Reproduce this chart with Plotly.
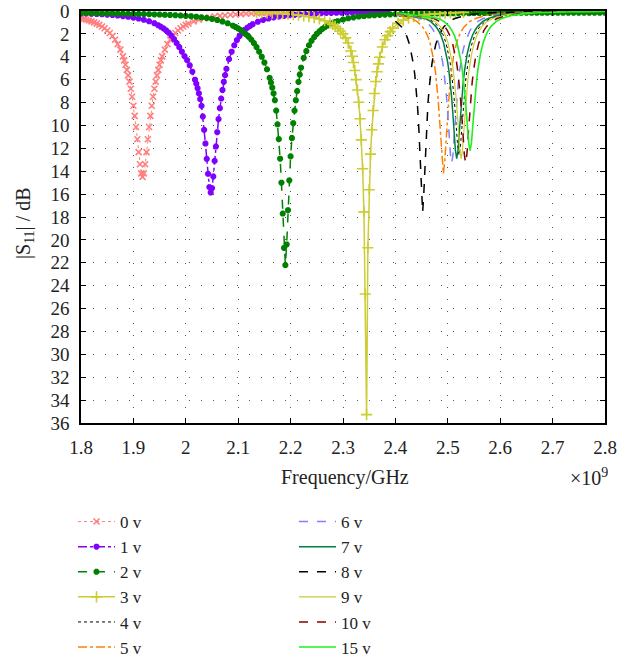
import plotly.graph_objects as go

# ---------------- data (frequency in GHz, |S11| in dB) ----------------
FREQ_0V = [1.800, 1.805, 1.810, 1.815, 1.820, 1.825, 1.830, 1.835, 1.840, 1.845,
           1.850, 1.855, 1.860, 1.865, 1.870, 1.875, 1.880, 1.8825, 1.885, 1.8875,
           1.890, 1.8925, 1.895, 1.8975, 1.900, 1.9025, 1.905, 1.9075, 1.910, 1.9125,
           1.915, 1.9175, 1.920, 1.9225, 1.925, 1.9275, 1.930, 1.9325, 1.935, 1.9375,
           1.940, 1.9425, 1.945, 1.9475, 1.950, 1.9525, 1.955, 1.960, 1.965, 1.970,
           1.975, 1.980, 1.985, 1.990, 1.995, 2.000, 2.005, 2.015, 2.025, 2.035,
           2.045, 2.055, 2.065, 2.075, 2.085, 2.095, 2.105, 2.115, 2.125, 2.135,
           2.145, 2.155, 2.165, 2.175, 2.185, 2.195, 2.205, 2.215]
DB_0V = [0.64, 0.70, 0.76, 0.83, 0.91, 1.00, 1.10, 1.21, 1.35, 1.51,
         1.70, 1.92, 2.19, 2.51, 2.90, 3.38, 3.97, 4.31, 4.70, 5.14,
         5.62, 6.17, 6.79, 7.49, 8.28, 9.16, 10.14, 11.21, 12.33, 13.39,
         14.19, 14.50, 14.19, 13.39, 12.33, 11.21, 10.14, 9.16, 8.28, 7.49,
         6.79, 6.17, 5.62, 5.14, 4.70, 4.31, 3.97, 3.38, 2.90, 2.51,
         2.19, 1.92, 1.70, 1.51, 1.35, 1.21, 1.10, 0.91, 0.76, 0.64,
         0.55, 0.48, 0.42, 0.37, 0.33, 0.30, 0.27, 0.24, 0.22, 0.20,
         0.18, 0.17, 0.16, 0.15, 0.14, 0.13, 0.12, 0.11]

FREQ_1V = [1.800, 1.810, 1.820, 1.830, 1.840, 1.850, 1.860, 1.870, 1.880, 1.890,
           1.900, 1.910, 1.920, 1.930, 1.940,
           1.9475, 1.9525, 1.9575, 1.9625, 1.9675, 1.9725, 1.9775, 1.9825, 1.9875, 1.9925,
           1.9975, 2.0025, 2.0075, 2.0125, 2.0175, 2.020, 2.0225, 2.025, 2.0275, 2.030,
           2.0325, 2.035, 2.0375, 2.040, 2.0425, 2.045, 2.0475, 2.050, 2.0525, 2.055,
           2.0575, 2.060, 2.0625, 2.065, 2.0675, 2.070, 2.0725, 2.075, 2.0775, 2.0825,
           2.0875, 2.0925, 2.0975, 2.1025, 2.1075, 2.1125, 2.1175, 2.1225, 2.1275, 2.1375,
           2.1475, 2.1575, 2.1675, 2.1775, 2.1875, 2.1975, 2.2075, 2.2175, 2.2275, 2.2375,
           2.2475, 2.2575, 2.2675, 2.2775, 2.2875, 2.2975, 2.3075, 2.3175, 2.3275, 2.3375,
           2.3475, 2.3575, 2.3675, 2.3775, 2.385]
DB_1V = [0.21, 0.22, 0.24, 0.26, 0.29, 0.32, 0.35, 0.40, 0.45, 0.51,
         0.58, 0.66, 0.77, 0.90, 1.07,
         1.25, 1.38, 1.52, 1.70, 1.90, 2.15, 2.45, 2.80, 3.15, 3.55,
         3.95, 4.30, 4.75, 5.30, 6.00, 6.35, 6.75, 7.20, 7.70, 8.29,
         9.22, 10.38, 11.58, 12.92, 14.23, 15.39, 15.86, 15.48, 14.46, 13.09,
         11.84, 10.59, 9.45, 8.49, 7.65, 6.90, 6.20, 5.60, 5.05, 4.20,
         3.55, 3.00, 2.55, 2.20, 1.90, 1.66, 1.46, 1.30, 1.16, 0.94,
         0.78, 0.66, 0.56, 0.49, 0.43, 0.38, 0.34, 0.30, 0.27, 0.24,
         0.22, 0.20, 0.18, 0.17, 0.16, 0.15, 0.14, 0.13, 0.12, 0.11,
         0.11, 0.10, 0.10, 0.09, 0.09]

FREQ_2V = [1.800, 1.810, 1.820, 1.830, 1.840, 1.850, 1.860, 1.870, 1.880, 1.890,
           1.900, 1.910, 1.920, 1.930, 1.940, 1.950, 1.960, 1.970, 1.980, 1.990,
           2.000, 2.010, 2.020, 2.030, 2.040, 2.050, 2.060, 2.070, 2.080, 2.090,
           2.095, 2.100, 2.105, 2.110, 2.115, 2.120, 2.125, 2.130, 2.135, 2.140,
           2.145, 2.150, 2.155, 2.160, 2.1625, 2.165, 2.1675, 2.170, 2.1725, 2.175,
           2.1775, 2.180, 2.1825, 2.185, 2.1875, 2.190, 2.1925, 2.195, 2.1975, 2.200,
           2.2025, 2.205, 2.2075, 2.210, 2.2125, 2.215, 2.2175, 2.220, 2.225, 2.230,
           2.235, 2.240, 2.245, 2.250, 2.255, 2.260, 2.265, 2.270, 2.275, 2.280,
           2.285, 2.290, 2.300, 2.310, 2.320, 2.330, 2.340, 2.350, 2.360, 2.370,
           2.380, 2.390, 2.400, 2.410, 2.420, 2.430, 2.440, 2.450, 2.460, 2.470,
           2.480, 2.490, 2.500, 2.510, 2.520, 2.530, 2.540, 2.550, 2.560, 2.570,
           2.580, 2.590, 2.600, 2.610, 2.620, 2.630, 2.640, 2.650, 2.660, 2.670,
           2.680, 2.690, 2.700, 2.710, 2.720, 2.730, 2.740, 2.750, 2.760, 2.770,
           2.780, 2.790, 2.800]
DB_2V = [0.18, 0.18, 0.19, 0.19, 0.20, 0.21, 0.21, 0.22, 0.23, 0.24,
         0.25, 0.26, 0.27, 0.28, 0.30, 0.31, 0.33, 0.35, 0.37, 0.40,
         0.43, 0.46, 0.50, 0.55, 0.61, 0.69, 0.79, 0.92, 1.08, 1.28,
         1.40, 1.53, 1.68, 1.85, 2.05, 2.25, 2.50, 2.80, 3.15, 3.55,
         4.00, 4.50, 5.10, 5.85, 6.25, 6.70, 7.20, 7.80, 8.70, 9.90,
         11.20, 12.90, 15.00, 17.70, 20.70, 22.20, 20.40, 17.40, 14.80, 12.70,
         11.10, 9.80, 8.70, 7.80, 7.00, 6.20, 5.55, 4.95, 4.10, 3.50,
         3.00, 2.60, 2.28, 2.00, 1.78, 1.58, 1.42, 1.28, 1.16, 1.06,
         0.97, 0.89, 0.75, 0.64, 0.56, 0.49, 0.44, 0.40, 0.37, 0.34,
         0.32, 0.30, 0.28, 0.27, 0.26, 0.25, 0.24, 0.23, 0.22, 0.22,
         0.21, 0.21, 0.20, 0.20, 0.19, 0.19, 0.19, 0.18, 0.18, 0.18,
         0.18, 0.17, 0.17, 0.17, 0.17, 0.17, 0.16, 0.16, 0.16, 0.16,
         0.16, 0.16, 0.16, 0.15, 0.15, 0.15, 0.15, 0.15, 0.15, 0.15,
         0.15, 0.15, 0.15]

FREQ_3V = [2.135, 2.145, 2.155, 2.165, 2.175, 2.185, 2.195, 2.205, 2.215, 2.225,
           2.235, 2.245, 2.255, 2.265, 2.275, 2.280, 2.285, 2.290, 2.295, 2.300,
           2.305, 2.310, 2.315, 2.3175, 2.320, 2.3225, 2.325, 2.3275, 2.330, 2.3325,
           2.335, 2.3375, 2.340, 2.3425, 2.345, 2.3475, 2.350, 2.3525, 2.355, 2.3575,
           2.360, 2.3625, 2.365, 2.3675, 2.370, 2.375, 2.380, 2.385, 2.390, 2.395,
           2.405, 2.415, 2.425, 2.435, 2.445, 2.455, 2.465, 2.475, 2.485, 2.495,
           2.505, 2.515, 2.530]
DB_3V = [0.13, 0.14, 0.16, 0.18, 0.20, 0.23, 0.27, 0.31, 0.36, 0.42,
         0.50, 0.58, 0.70, 0.85, 1.05, 1.18, 1.35, 1.53, 1.75, 2.00,
         2.35, 2.80, 3.50, 3.95, 4.50, 5.20, 6.00, 6.90, 7.97, 9.42,
         11.26, 13.79, 17.55, 24.73, 35.27, 20.69, 15.62, 12.51, 10.38, 8.70,
         7.21, 6.16, 5.31, 4.62, 4.04, 3.15, 2.51, 2.15, 1.80, 1.50,
         1.08, 0.80, 0.62, 0.50, 0.41, 0.35, 0.29, 0.25, 0.22, 0.19,
         0.17, 0.15, 0.12]

FREQ_4V = [2.400, 2.4615, 2.4715, 2.4815, 2.4865, 2.4915, 2.4965, 2.5015, 2.504, 2.5065,
           2.509, 2.5115, 2.514, 2.5165, 2.519, 2.5215, 2.524, 2.5265, 2.529, 2.5315,
           2.534, 2.5365, 2.539, 2.5415, 2.5465, 2.5515, 2.5565, 2.5615, 2.5715, 2.5815,
           2.6015, 2.6215, 2.6515, 2.6815, 2.7215, 2.800]
DB_4V = [0.17, 0.66, 0.91, 1.34, 1.68, 2.13, 2.79, 3.73, 4.38, 5.16,
         6.13, 7.32, 8.76, 10.40, 11.92, 12.60, 11.92, 10.40, 8.76, 7.32,
         6.13, 5.16, 4.38, 3.73, 2.79, 2.13, 1.68, 1.34, 0.91, 0.66,
         0.38, 0.25, 0.15, 0.10, 0.065, 0.03]

FREQ_5V = [2.400, 2.4315, 2.4415, 2.4515, 2.4565, 2.4615, 2.4665, 2.4715, 2.474, 2.4765,
           2.479, 2.4815, 2.484, 2.4865, 2.489, 2.4915, 2.494, 2.4965, 2.499, 2.5015,
           2.504, 2.5065, 2.509, 2.5115, 2.5165, 2.5215, 2.5265, 2.5315, 2.5415, 2.5515,
           2.5715, 2.5915, 2.6215, 2.6515, 2.6915, 2.800]
DB_5V = [0.30, 0.67, 0.93, 1.37, 1.71, 2.17, 2.85, 3.84, 4.51, 5.34,
         6.37, 7.68, 9.30, 11.25, 13.23, 14.20, 13.23, 11.25, 9.30, 7.68,
         6.37, 5.34, 4.51, 3.84, 2.85, 2.17, 1.71, 1.37, 0.93, 0.67,
         0.39, 0.25, 0.15, 0.10, 0.065, 0.027]

FREQ_6V = [2.400, 2.4475, 2.4575, 2.4675, 2.4725, 2.4775, 2.4825, 2.4875, 2.490, 2.4925,
           2.495, 2.4975, 2.500, 2.5025, 2.505, 2.5075, 2.510, 2.5125, 2.515, 2.5175,
           2.520, 2.5225, 2.525, 2.5275, 2.5325, 2.5375, 2.5425, 2.5475, 2.5575, 2.5675,
           2.5875, 2.6075, 2.6375, 2.6675, 2.7075, 2.800]
DB_6V = [0.22, 0.66, 0.91, 1.35, 1.69, 2.15, 2.81, 3.78, 4.43, 5.24,
         6.24, 7.49, 9.01, 10.79, 12.50, 13.30, 12.50, 10.79, 9.01, 7.49,
         6.24, 5.24, 4.43, 3.78, 2.81, 2.15, 1.69, 1.35, 0.91, 0.66,
         0.38, 0.25, 0.15, 0.10, 0.065, 0.03]

FREQ_7V = [2.400, 2.457, 2.467, 2.477, 2.482, 2.487, 2.492, 2.497, 2.4995, 2.502,
           2.5045, 2.507, 2.5095, 2.512, 2.5145, 2.517, 2.5195, 2.522, 2.5245, 2.527,
           2.5295, 2.532, 2.5345, 2.537, 2.542, 2.547, 2.552, 2.557, 2.567, 2.577,
           2.597, 2.617, 2.647, 2.677, 2.717, 2.800]
DB_7V = [0.18, 0.66, 0.91, 1.34, 1.68, 2.14, 2.80, 3.75, 4.40, 5.19,
         6.18, 7.40, 8.87, 10.57, 12.17, 12.90, 12.17, 10.57, 8.87, 7.40,
         6.18, 5.19, 4.40, 3.75, 2.80, 2.14, 1.68, 1.34, 0.91, 0.66,
         0.38, 0.25, 0.15, 0.10, 0.065, 0.03]

FREQ_8V = [2.400, 2.412, 2.417, 2.422, 2.427, 2.432, 2.4345, 2.437, 2.4395, 2.442,
           2.4445, 2.447, 2.4495, 2.452, 2.4545, 2.457, 2.4595, 2.462, 2.4645, 2.467,
           2.4695, 2.472, 2.477, 2.482, 2.487, 2.492, 2.502, 2.512, 2.532, 2.552,
           2.582, 2.612, 2.652, 2.720, 2.800]
DB_8V = [0.89, 1.40, 1.75, 2.24, 2.93, 3.97, 4.68, 5.57, 6.70, 8.16,
         10.07, 12.58, 15.67, 17.60, 15.67, 12.58, 10.07, 8.16, 6.70, 5.57,
         4.68, 3.97, 2.93, 2.24, 1.75, 1.40, 0.95, 0.68, 0.40, 0.26,
         0.16, 0.10, 0.066, 0.037, 0.022]

FREQ_9V = [2.400, 2.4655, 2.4755, 2.4855, 2.4905, 2.4955, 2.5005, 2.5055, 2.508, 2.5105,
           2.513, 2.5155, 2.518, 2.5205, 2.523, 2.5255, 2.528, 2.5305, 2.533, 2.5355,
           2.538, 2.5405, 2.543, 2.5455, 2.5505, 2.5555, 2.5605, 2.5655, 2.5755, 2.5855,
           2.6055, 2.6255, 2.6555, 2.6855, 2.7255, 2.800]
DB_9V = [0.16, 0.66, 0.91, 1.34, 1.68, 2.14, 2.80, 3.75, 4.40, 5.19,
         6.18, 7.40, 8.87, 10.57, 12.17, 12.90, 12.17, 10.57, 8.87, 7.40,
         6.18, 5.19, 4.40, 3.75, 2.80, 2.14, 1.68, 1.34, 0.91, 0.66,
         0.38, 0.25, 0.15, 0.10, 0.065, 0.03]

FREQ_10V = [2.400, 2.474, 2.484, 2.494, 2.499, 2.504, 2.509, 2.514, 2.5165, 2.519,
            2.5215, 2.524, 2.5265, 2.529, 2.5315, 2.534, 2.5365, 2.539, 2.5415, 2.544,
            2.5465, 2.549, 2.5515, 2.554, 2.559, 2.564, 2.569, 2.574, 2.584, 2.594,
            2.614, 2.634, 2.664, 2.694, 2.734, 2.800]
DB_10V = [0.14, 0.66, 0.91, 1.35, 1.69, 2.15, 2.81, 3.78, 4.43, 5.24,
          6.24, 7.49, 9.01, 10.79, 12.50, 13.30, 12.50, 10.79, 9.01, 7.49,
          6.24, 5.24, 4.43, 3.78, 2.81, 2.15, 1.69, 1.35, 0.91, 0.66,
          0.38, 0.25, 0.15, 0.10, 0.065, 0.035]

FREQ_15V = [2.400, 2.4825, 2.4925, 2.5025, 2.5075, 2.5125, 2.5175, 2.5225, 2.525, 2.5275,
            2.530, 2.5325, 2.535, 2.5375, 2.540, 2.5425, 2.545, 2.5475, 2.550, 2.5525,
            2.555, 2.5575, 2.560, 2.5625, 2.5675, 2.5725, 2.5775, 2.5825, 2.5925, 2.6025,
            2.6225, 2.6425, 2.6725, 2.7025, 2.7425, 2.800]
DB_15V = [0.13, 0.66, 0.91, 1.34, 1.68, 2.13, 2.78, 3.70, 4.33, 5.10,
          6.05, 7.22, 8.61, 10.16, 11.58, 12.20, 11.58, 10.16, 8.61, 7.22,
          6.05, 5.10, 4.33, 3.70, 2.78, 2.13, 1.68, 1.34, 0.91, 0.66,
          0.38, 0.25, 0.15, 0.10, 0.065, 0.04]

X_TICKS = [1.8, 1.9, 2.0, 2.1, 2.2, 2.3, 2.4, 2.5, 2.6, 2.7, 2.8]
X_TICK_TEXT = ["1.8", "1.9", "2", "2.1", "2.2", "2.3", "2.4", "2.5", "2.6", "2.7", "2.8"]
Y_TICKS = [0, 2, 4, 6, 8, 10, 12, 14, 16, 18, 20, 22, 24, 26, 28, 30, 32, 34, 36]

# ---------------- styles ----------------
FONT = "Liberation Serif"
TXT = "#222222"

series = [
    ("0 v", FREQ_0V, DB_0V, dict(color="#FF7F7F", width=1, dash="dot"),
     dict(symbol="x-thin-open", size=6, line=dict(color="#FF7F7F", width=1.6)), "legend"),
    ("1 v", FREQ_1V, DB_1V, dict(color="#8000FF", width=1.5, dash="dashdot"),
     dict(symbol="asterisk-open", size=5, line=dict(color="#8000FF", width=2.2)), "legend"),
    ("2 v", FREQ_2V, DB_2V, dict(color="#008000", width=1.5, dash="dash"),
     dict(symbol="asterisk-open", size=5, line=dict(color="#008000", width=2.2)), "legend"),
    ("3 v", FREQ_3V, DB_3V, dict(color="#CCCC33", width=1.5),
     dict(symbol="cross-thin-open", size=8, line=dict(color="#CCCC33", width=1.6)), "legend"),
    ("4 v", FREQ_4V, DB_4V, dict(color="black", width=1, dash="dot"), None, "legend"),
    ("5 v", FREQ_5V, DB_5V, dict(color="#FF8000", width=1.5, dash="dashdot"), None, "legend"),
    ("6 v", FREQ_6V, DB_6V, dict(color="#8080FF", width=1.5, dash="dash"), None, "legend2"),
    ("7 v", FREQ_7V, DB_7V, dict(color="#008040", width=1.5), None, "legend2"),
    ("8 v", FREQ_8V, DB_8V, dict(color="black", width=1.5, dash="dash"), None, "legend2"),
    ("9 v", FREQ_9V, DB_9V, dict(color="#CCCC33", width=1.2), None, "legend2"),
    ("10 v", FREQ_10V, DB_10V, dict(color="#800000", width=1.5, dash="dash"), None, "legend2"),
    ("15 v", FREQ_15V, DB_15V, dict(color="#22EE22", width=1.6), None, "legend2"),
]

fig = go.Figure()
for name, fx, fy, line, marker, leg in series:
    assert len(fx) == len(fy), name
    kw = dict(x=fx, y=fy, name=name, line=line, legend=leg)
    if marker is not None:
        kw["mode"] = "lines+markers"
        kw["marker"] = dict(color=marker["line"]["color"], **marker)
    else:
        kw["mode"] = "lines"
    fig.add_trace(go.Scatter(**kw))

axis_common = dict(
    showline=True, linecolor="black", linewidth=1.5, mirror="ticks",
    ticks="inside", ticklen=5, tickcolor="black", tickwidth=1,
    showgrid=True, gridcolor="#555555", gridwidth=1, griddash="1px,11px",
    zeroline=False, automargin=False, ticklabeloverflow="allow",
    tickfont=dict(family=FONT, size=19, color=TXT),
)

fig.update_xaxes(range=[1.8, 2.8], tickvals=X_TICKS, ticktext=X_TICK_TEXT,
                 tickangle=0, ticklabelstandoff=6, **axis_common)
fig.update_yaxes(range=[36, 0], tickvals=Y_TICKS, ticklabelstandoff=6, **axis_common)

# the page body margin is removed (see post_script), so figure pixels == page pixels
W, H = 631, 661
PL, PR, PT, PB = 81, 605, 11, 423          # plot area in page pixels
L, R, T, B = PL, W - PR, PT, H - PB
pw, ph = PR - PL, PB - PT

def px_x(px):
    return (px - PL) / pw

def px_y(py):
    return 1 - (py - PT) / ph

def cx(px):
    return px / W

def cy(py):
    return 1 - py / H

fig.update_layout(
    width=W, height=H,
    margin=dict(l=L, r=R, t=T, b=B, pad=0, autoexpand=False),
    paper_bgcolor="white", plot_bgcolor="white",
    font=dict(family=FONT, size=17, color=TXT),
    showlegend=True,
    hovermode=False,
    legend=dict(xref="container", yref="container", x=cx(73), y=cy(504),
                xanchor="left", yanchor="top", bgcolor="rgba(0,0,0,0)",
                font=dict(family=FONT, size=17, color=TXT), tracegroupgap=0,
                itemwidth=37),
    legend2=dict(xref="container", yref="container", x=cx(294), y=cy(504),
                 xanchor="left", yanchor="top", bgcolor="rgba(0,0,0,0)",
                 font=dict(family=FONT, size=17, color=TXT), tracegroupgap=0,
                 itemwidth=37),
    annotations=[
        dict(text="Frequency/GHz", x=px_x(345), y=px_y(477), xref="paper", yref="paper",
             showarrow=False, xanchor="center", yanchor="middle",
             font=dict(family=FONT, size=20, color=TXT)),
        dict(text="×10<sup>9</sup>", x=px_x(589), y=px_y(477), xref="paper", yref="paper",
             showarrow=False, xanchor="center", yanchor="middle",
             font=dict(family=FONT, size=20, color=TXT)),
        dict(text="|S<sub>11</sub>| / dB", x=px_x(24), y=px_y(223), xref="paper", yref="paper",
             showarrow=False, xanchor="center", yanchor="middle", textangle=-90,
             font=dict(family=FONT, size=20, color=TXT)),
    ],
)

fig.write_html("out.html",
               config={"displayModeBar": False},
               post_script="document.body.style.margin='0px';document.body.style.padding='0px';")
